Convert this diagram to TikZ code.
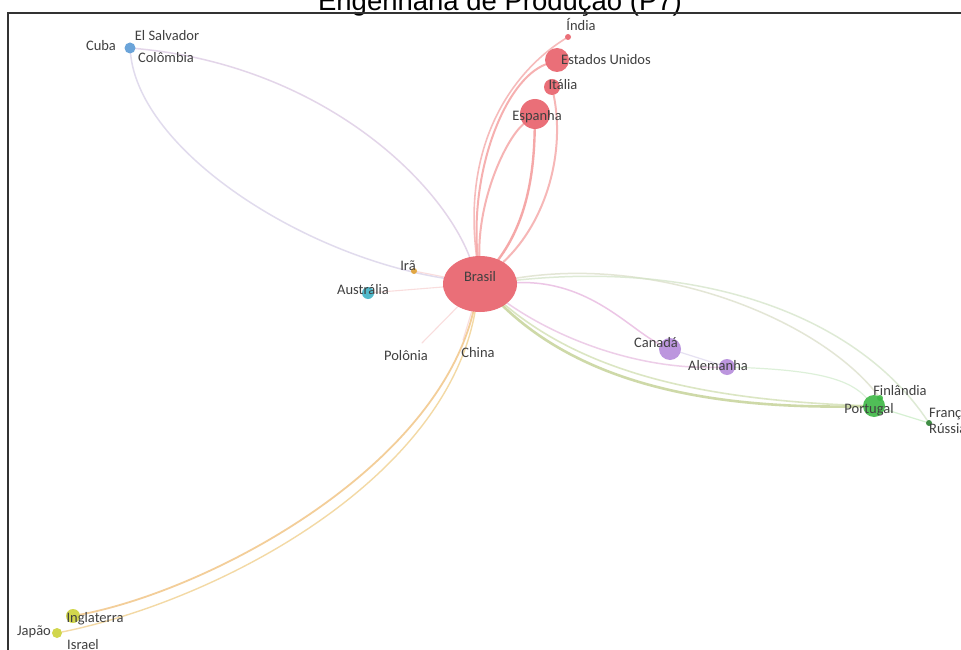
\documentclass[tikz,border=0pt]{standalone}
\usepackage{fontspec}
\setmainfont{Carlito}
\newfontfamily\titlefont{Liberation Sans}
\usepackage{xcolor}
\usepackage{tikz}
\usetikzlibrary{shapes.geometric}
\pgfdeclarelayer{fundo}
\pgfsetlayers{fundo,main}
\definecolor{netred}{HTML}{E8606A}
\definecolor{netblue}{HTML}{5B9BD5}
\definecolor{netcyan}{HTML}{3FB3C6}
\definecolor{netpurple}{HTML}{B58BDB}
\definecolor{netgreen}{HTML}{3DB845}
\definecolor{netyellow}{HTML}{CCD23A}
\definecolor{netorange}{HTML}{E0A030}
\tikzset{
  pais/.style={circle,inner sep=0pt,draw=none,opacity=0.9},
  rotulo/.style={text=black!75,inner sep=1pt,font=\fontsize{14.5}{14.5}\selectfont},
  aresta/.style={line width=1.5pt,line cap=round,opacity=0.75},
}

\begin{document}
\begin{tikzpicture}[x=1pt,y=-1pt]
  \useasboundingbox (0,0) rectangle (961,650);
  % title, cut by the top edge
  \node[font=\titlefont\fontsize{27.5}{27.5}\selectfont,anchor=base,inner sep=0pt] (titulo) at (500,10.5) {Engenharia de Produção (P7)};
  \draw[line width=1.4pt,black!80] (8,650) -- (8,13) -- (961,13);

  % countries
  \node[pais,ellipse,fill=netred,minimum width=74pt,minimum height=56pt] (brasil) at (480,284) {};
  \node[pais,fill=netred,minimum size=6pt] (india) at (568,37) {};
  \node[pais,fill=netred,minimum size=24pt] (eua) at (557,60) {};
  \node[pais,fill=netred,minimum size=16pt] (italia) at (552,87) {};
  \node[pais,fill=netred,minimum size=30pt] (espanha) at (535,114) {};
  \node[pais,fill=netblue,minimum size=11pt] (cuba) at (130,48) {};
  \node[pais,fill=netorange,minimum size=6pt] (ira) at (414,271) {};
  \node[pais,fill=netcyan,minimum size=12pt] (australia) at (368,293) {};
  \coordinate (polonia) at (422,343);
  \coordinate (china) at (463,340);
  \node[pais,fill=netpurple,minimum size=22pt] (canada) at (670,349) {};
  \node[pais,fill=netpurple,minimum size=16pt] (alemanha) at (727,367) {};
  \node[pais,fill=netgreen,minimum size=6pt] (finlandia) at (880,398) {};
  \node[pais,fill=netgreen,minimum size=22pt] (portugal) at (874,406) {};
  \node[pais,fill=netgreen!70!black,minimum size=6pt] (franca) at (929,423) {};
  \node[pais,fill=netyellow,minimum size=14pt] (inglaterra) at (73,616) {};
  \node[pais,fill=netyellow,minimum size=10pt] (japao) at (57,633) {};

  % labels
  \node[rotulo] (tbrasil) at (480,277) {Brasil};
  \node[rotulo] (tindia) at (581,25) {Índia};
  \node[rotulo] (teua) at (606,60) {Estados Unidos};
  \node[rotulo] (titalia) at (563,85) {Itália};
  \node[rotulo] (tespanha) at (537,117) {Espanha};
  \node[rotulo] (tcuba) at (101,46) {Cuba};
  \node[rotulo] (tsalvador) at (167,36) {El Salvador};
  \node[rotulo] (tcolombia) at (166,58) {Colômbia};
  \node[rotulo] (tira) at (408,266) {Irã};
  \node[rotulo] (taustralia) at (363,290) {Austrália};
  \node[rotulo] (tpolonia) at (406,356) {Polônia};
  \node[rotulo] (tchina) at (478,353) {China};
  \node[rotulo] (tcanada) at (656,343) {Canadá};
  \node[rotulo] (talemanha) at (718,366) {Alemanha};
  \node[rotulo] (tfinlandia) at (900,391) {Finlândia};
  \node[rotulo] (tportugal) at (869,410) {Portugal};
  \node[rotulo,anchor=west] (tfranca) at (928,414) {França};
  \node[rotulo,anchor=west] (trussia) at (928,429) {Rússia};
  \node[rotulo] (tinglaterra) at (95,619) {Inglaterra};
  \node[rotulo] (tjapao) at (34,632) {Japão};
  \node[rotulo] (tisrael) at (83,645) {Israel};

  % links
  \begin{pgfonlayer}{fundo}
    \fill[white] (0,0) rectangle (961,650);
    \draw[aresta,color={rgb,255:red,215;green,208;blue,232}] (brasil) .. controls (300,255) and (140,150) .. (cuba);
    \draw[aresta,color={rgb,255:red,218;green,200;blue,226}] (brasil) .. controls (440,180) and (320,65) .. (cuba);
    \foreach \a/\b in {ira/brasil,australia/brasil,polonia/brasil,china/brasil}
      \draw[aresta,line width=1.1pt,color={rgb,255:red,248;green,210;blue,210}] (\a) -- (\b);
    \draw[aresta,line width=2pt,color={rgb,255:red,244;green,150;blue,150}] (brasil) .. controls (470,170) and (505,80) .. (eua);
    \draw[aresta,line width=1.6pt,color={rgb,255:red,244;green,165;blue,165}] (brasil) .. controls (462,140) and (515,70) .. (india);
    \draw[aresta,line width=2.4pt,color={rgb,255:red,242;green,140;blue,140}] (brasil) .. controls (528,220) and (534,170) .. (espanha);
    \draw[aresta,line width=2pt,color={rgb,255:red,244;green,155;blue,155}] (brasil) .. controls (478,200) and (505,140) .. (espanha);
    \draw[aresta,line width=2pt,color={rgb,255:red,244;green,160;blue,160}] (brasil) .. controls (548,220) and (565,150) .. (italia);
    \draw[aresta,color={rgb,255:red,230;green,180;blue,222}] (brasil) .. controls (590,280) and (630,330) .. (canada);
    \draw[aresta,color={rgb,255:red,232;green,190;blue,225}] (brasil) .. controls (560,340) and (640,370) .. (alemanha);
    \draw[aresta,line width=1.2pt,color={rgb,255:red,222;green,215;blue,238}] (canada) -- (alemanha);
    \draw[aresta,line width=2.6pt,color={rgb,255:red,190;green,205;blue,140}] (brasil) .. controls (580,380) and (700,410) .. (portugal);
    \draw[aresta,line width=1.6pt,color={rgb,255:red,208;green,222;blue,175}] (brasil) .. controls (585,372) and (700,400) .. (portugal);
    \draw[aresta,color={rgb,255:red,218;green,222;blue,200}] (brasil) .. controls (660,255) and (820,320) .. (finlandia);
    \draw[aresta,color={rgb,255:red,212;green,228;blue,200}] (brasil) .. controls (710,260) and (860,320) .. (franca);
    \draw[aresta,line width=1.2pt,color={rgb,255:red,210;green,236;blue,205}] (alemanha) .. controls (820,370) and (850,380) .. (portugal);
    \draw[aresta,line width=1.2pt,color={rgb,255:red,200;green,236;blue,195}] (portugal) -- (franca);
    \draw[aresta,line width=1.8pt,color={rgb,255:red,240;green,190;blue,120}] (brasil) .. controls (435,470) and (210,590) .. (inglaterra);
    \draw[aresta,line width=1.4pt,color={rgb,255:red,240;green,205;blue,135}] (brasil) .. controls (445,480) and (220,600) .. (japao);
  \end{pgfonlayer}
\end{tikzpicture}
\end{document}
